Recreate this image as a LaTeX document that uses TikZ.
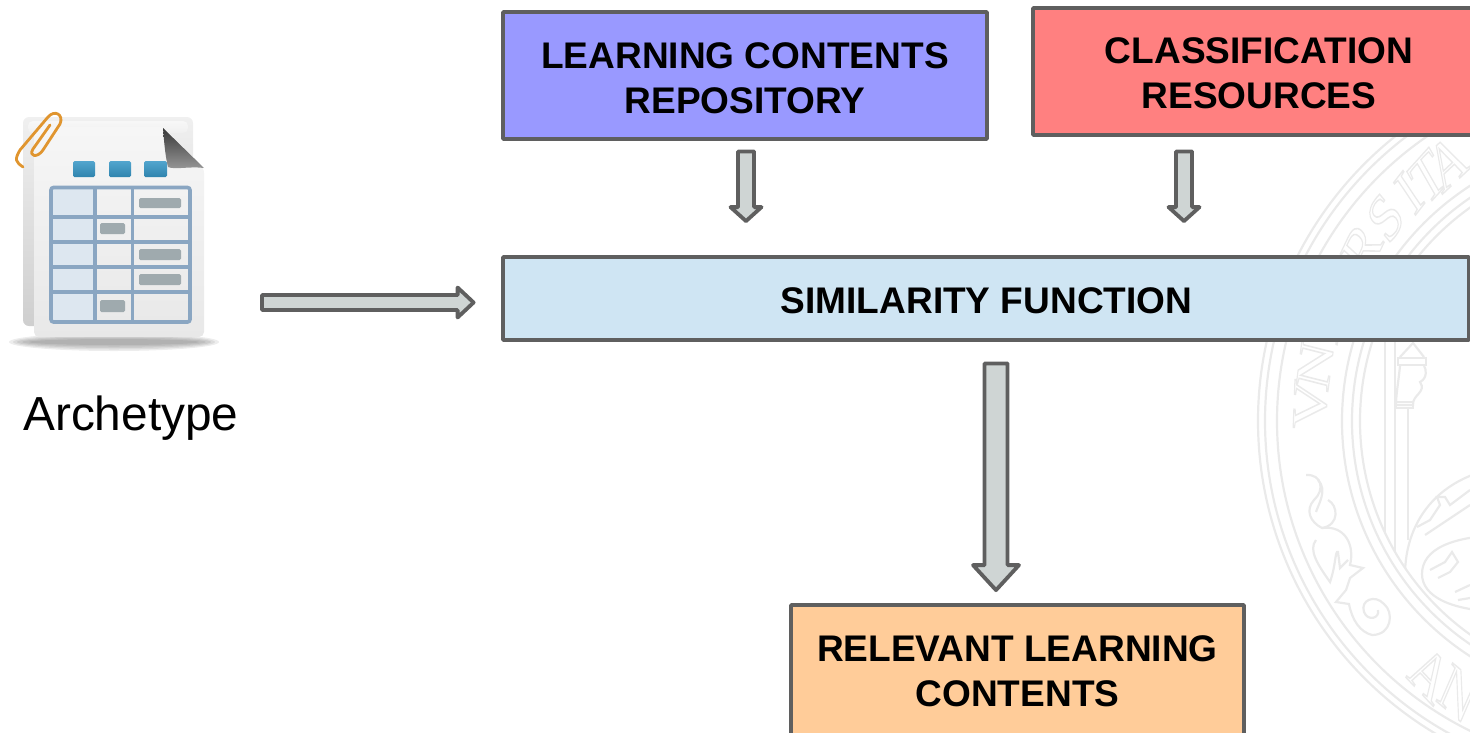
\documentclass[tikz,border=0pt]{standalone}
\usepackage{fontspec}
\setmainfont{Liberation Sans}
\newfontfamily\sealfont{Liberation Serif}
\usetikzlibrary{calc}
\definecolor{edgegray}{HTML}{5F5F5F}
\definecolor{arrowfill}{HTML}{CFD5D4}
\definecolor{lcrfill}{HTML}{9999FF}
\definecolor{crfill}{HTML}{FF8080}
\definecolor{sffill}{HTML}{CFE5F3}
\definecolor{rlcfill}{HTML}{FFCC99}
\definecolor{seal}{HTML}{EAEAEA}
\definecolor{tableblue}{HTML}{8AA6C2}
\definecolor{cellblue}{HTML}{DDE7F0}
\definecolor{chip}{HTML}{9FAAAE}
\definecolor{paperclip}{HTML}{E0952F}
\definecolor{HTMLbtnA}{HTML}{52A5CE}
\definecolor{HTMLbtnB}{HTML}{2F84AE}
\tikzset{
  box/.style={draw=edgegray,line width=3.8pt,rounded corners=0.8pt,inner sep=0pt},
  boxtext/.style={inner sep=0pt,align=center,font=\fontsize{37.05}{45}\selectfont\bfseries,text=black},
  blockstyle/.style={draw=edgegray,fill=arrowfill,line width=3.8pt,line join=round},
  sealline/.style={draw=seal,line width=2.2pt},
  sealletter/.style={font=\fontsize{68}{68}\selectfont\sealfont,inner sep=0pt,xscale=.72},
  tableline/.style={draw=tableblue,line width=3.6pt},
  chipbox/.style={fill=chip,rounded corners=1.5pt},
  btn/.style={top color=HTMLbtnA,bottom color=HTMLbtnB,rounded corners=1.5pt},
}
\newcommand{\outl}[1]{\special{pdf:code q 1 Tr 1.6 w 0.918 G}#1\special{pdf:code Q}}
% from, to, half stem, half head, head length
\newcommand{\blockarrow}[5]{%
  \coordinate (headbase) at ($(#2)!#5pt!(#1)$);
  \path[blockstyle] ($(#1)!#3pt!90:(#2)$) -- ($(headbase)!#3pt!90:(#2)$)
    -- ($(headbase)!#4pt!90:(#2)$) -- (#2) -- ($(headbase)!#4pt!-90:(#2)$)
    -- ($(headbase)!#3pt!-90:(#2)$) -- ($(#1)!#3pt!-90:(#2)$) -- cycle;
}
\newcommand{\sealout}[4]{% name, angle, radius, letter (top outward)
  \node[sealletter,rotate=#2-90] (#1) at ({1622+#3*cos(#2)},{421-#3*sin(#2)}) {\outl{#4}};}
\newcommand{\sealin}[4]{% name, angle, radius, letter (top inward)
  \node[sealletter,rotate=#2+90] (#1) at ({1622+#3*cos(#2)},{421-#3*sin(#2)}) {\outl{#4}};}
\begin{document}
\begin{tikzpicture}[x=1pt,y=-1pt]
\useasboundingbox (0,0) rectangle (1470,732);
% ---- watermark seal
\begin{scope}
\clip (0,0) rectangle (1470,732);
\foreach \r in {364,357,345,280,270,262}{ \draw[sealline] (1622,421) circle[radius=\r]; }
\sealout{sv}{177}{312}{V}
\sealout{sn}{169.7}{312}{N}
\sealout{si}{163}{312}{I}
\sealout{sr}{146.5}{312}{R}
\sealout{ss}{139.3}{312}{S}
\sealout{st}{133}{312}{I}
\sealout{su}{128.5}{312}{T}
\sealout{sa}{124}{312}{A}
\sealin{ba}{232.7}{318}{A}
\sealin{bn}{239}{318}{N}
% staff
\begin{scope}
\clip (1622,421) circle[radius=262];
\draw[sealline] (1385,340) -- (1385,560);
\draw[sealline] (1395,340) -- (1395,560);
\draw[sealline] (1408,408) -- (1408,540);
\draw[sealline] (1422,574) .. controls (1422,550) and (1450,535) .. (1510,535)
   (1422,574) .. controls (1422,596) and (1450,612) .. (1510,612);
\draw[sealline] (1405,575) .. controls (1405,520) and (1440,470) .. (1520,465);
\draw[sealline] (1405,575) .. controls (1405,600) and (1420,625) .. (1475,640);
% lion-like figure
\draw[sealline] (1417,527) -- (1430,520) -- (1440,505) -- (1437,497) -- (1445,497) -- (1450,505) -- (1470,490);
\draw[sealline] (1425,535) -- (1440,525) -- (1470,505);
\draw[sealline] (1430,570) -- (1445,562) -- (1452,552) -- (1458,562) -- (1450,572) -- (1438,578);
\draw[sealline] (1455,592) -- (1470,585) (1458,600) -- (1470,598);
\end{scope}
% finial
\draw[sealline] (1398,358) rectangle (1426,365);
\draw[sealline] (1400,357) -- (1413,343) -- (1424,357);
\draw[sealline] (1400,366) .. controls (1398,385) and (1396,395) .. (1396,405) -- (1413,405)
   .. controls (1412,395) and (1427,392) .. (1420,382) .. controls (1428,378) and (1426,368) .. (1424,366);
\draw[sealline] (1396,408) rectangle (1413,402);
% scroll ornament
\draw[sealline] (1306,475) .. controls (1322,474) and (1325,490) .. (1314,500)
   .. controls (1305,510) and (1310,522) .. (1322,528)
   .. controls (1340,525) and (1338,505) .. (1328,500);
\draw[sealline] (1318,480) .. controls (1328,490) and (1318,505) .. (1316,512);
\draw[sealline] (1322,528) .. controls (1345,525) and (1355,545) .. (1350,565)
   -- (1363,568) -- (1350,578) -- (1346,590) -- (1336,602) -- (1349,604)
   .. controls (1352,620) and (1360,632) .. (1372,635)
   .. controls (1392,635) and (1394,612) .. (1384,604)
   .. controls (1375,594) and (1360,600) .. (1364,612)
   .. controls (1368,622) and (1380,618) .. (1378,610);
\draw[sealline] (1316,540) .. controls (1308,550) and (1318,565) .. (1330,582)
   .. controls (1336,565) and (1335,550) .. (1338,552) -- (1340,568) -- (1348,560);
\end{scope}
% ---- icon
\foreach \rx/\ry in {105/9,101/7.5,97/6,92/4.5,85/3}{ \fill[black,opacity=.07] (114,342) ellipse[x radius=\rx,y radius=\ry]; }
\path[top color=white!88!gray,bottom color=white!62!gray,rounded corners=6pt] (23,117) rectangle (193,326);
\path[top color=white!94!gray,bottom color=white!88!gray,rounded corners=5pt] (28,121) rectangle (188,133);
\path[top color=white!93!gray,bottom color=white!82!gray,rounded corners=5pt] (34,127) -- (163,127) -- (204,168) -- (204,337) -- (34,337) -- cycle;
\path[btn] (73,161) rectangle (95,177);
\path[btn] (109,161) rectangle (131,177);
\path[btn] (144,161) rectangle (167,177);
\shade[top color=black!78,bottom color=black!40] (163,128) -- (204,168) .. controls (190,166) and (175,170) .. (168,167) .. controls (165,155) and (164,140) .. (163,128) -- cycle;
\fill[cellblue] (51,187) rectangle (93,322);
\draw[tableline,rounded corners=2.5pt] (51,187.5) rectangle (190,322);
\draw[tableline] (95,187) -- (95,322) (132.5,187) -- (132.5,322);
\draw[tableline] (51,217) -- (190,217) (51,242) -- (190,242) (51,267) -- (190,267) (51,292) -- (190,292);
\path[chipbox] (139,198) rectangle (181,208);
\path[chipbox] (100,223) rectangle (125,234);
\path[chipbox] (139,249) rectangle (181,260);
\path[chipbox] (139,274) rectangle (181,285);
\path[chipbox] (100,300) rectangle (125,312);
\draw[paperclip,line width=2.8pt,line cap=round,line join=round]
  (50,125) -- (33,149) .. controls (28,157) and (38,158) .. (43,150)
  -- (60,124) .. controls (64,115) and (55,109) .. (48,117)
  -- (20,150) .. controls (14,160) and (16,162) .. (23,167);
\node[anchor=base west,inner sep=0pt,font=\fontsize{47.8}{50}\selectfont,text=black] (arch) at (23,430) {Archetype};
\coordinate (iconout) at (262,302.5);
% ---- boxes
\node[box,fill=lcrfill,minimum width=484pt,minimum height=127pt] (lcr) at (745,75.5) {};
\node[boxtext] (lcrt) at (745,78) {LEARNING CONTENTS\\REPOSITORY};
\node[box,fill=crfill,minimum width=440pt,minimum height=127pt] (cr) at (1253,71.5) {};
\node[boxtext] (crt) at (1259,73) {CLASSIFICATION\\RESOURCES};
\node[box,fill=sffill,minimum width=966pt,minimum height=83pt] (sf) at (986,298.5) {};
\node[boxtext] (sft) at (986.5,300.5) {SIMILARITY FUNCTION};
\node[box,fill=rlcfill,minimum width=453pt,minimum height=132pt] (rlc) at (1017.5,671) {};
\node[boxtext] (rlct) at (1017.5,671) {RELEVANT LEARNING\\CONTENTS};
% ---- connectors
\coordinate (a1s) at ($(lcr.south)+(1,10.5)$);
\coordinate (a1e) at ($(sf.north)+(-240,-34)$);
\blockarrow{a1s}{a1e}{8}{15.5}{14}
\coordinate (a2s) at ($(cr.south)+(-69,14.5)$);
\coordinate (a2e) at ($(sf.north)+(198,-34)$);
\blockarrow{a2s}{a2e}{8}{15.5}{14}
\coordinate (a3e) at ($(sf.west)+(-27.5,4)$);
\blockarrow{iconout}{a3e}{7.5}{15}{16}
\coordinate (a4s) at ($(sf.south)+(10,21.5)$);
\coordinate (a4e) at ($(rlc.north)+(-21.5,-13)$);
\blockarrow{a4s}{a4e}{11.5}{23}{25}
\end{tikzpicture}
\end{document}
